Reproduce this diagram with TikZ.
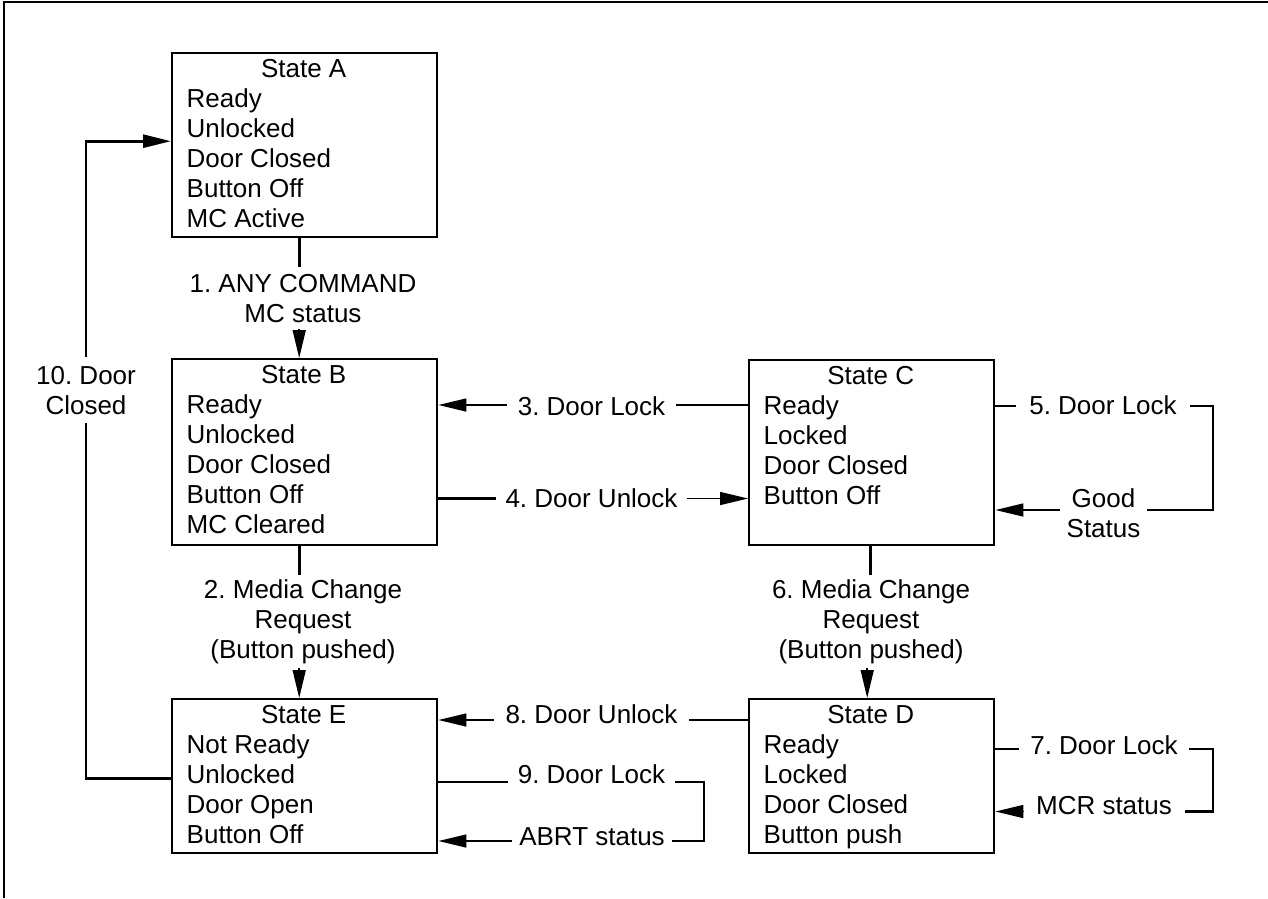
\documentclass[tikz,border=0pt]{standalone}
\usepackage{fontspec}
\setmainfont{Liberation Sans}
\usetikzlibrary{arrows.meta}
\newcommand\diagfont{\fontsize{26}{30}\selectfont}
\newcommand\titlebox[2]{\makebox[#1][c]{#2}}
\frenchspacing

\begin{document}
\begin{tikzpicture}[x=1pt,y=-1pt,
  statebox/.style={draw, line width=2.4pt, inner sep=0pt, anchor=north west},
  statetext/.style={anchor=base west, align=left, inner sep=0pt, font=\diagfont},
  lbl/.style={anchor=base, align=center, font=\diagfont, inner ysep=4pt},
  heavy/.style={line width=2.8pt},
  thinline/.style={line width=1.5pt},
  tip/.style={-{Triangle[length=28pt,width=13pt]}},
]
\useasboundingbox (0,0) rectangle (1268,898);

% page frame (top and left edges)
\draw[line width=2.4pt] (4,898) -- (4,2) -- (1268,2);

% state boxes
\node[statebox, minimum width=265pt, minimum height=184pt] (A) at (171,52) {};
\node[statebox, minimum width=265pt, minimum height=186pt] (B) at (171,358) {};
\node[statebox, minimum width=245pt, minimum height=185pt] (C) at (748,359) {};
\node[statebox, minimum width=245pt, minimum height=154pt] (D) at (748,698) {};
\node[statebox, minimum width=265pt, minimum height=154pt] (E) at (171,698) {};

% state contents (anchored on the baseline of the last line)
\node[statetext] (At) at ([xshift=15.5pt,yshift=-175.5pt]A.north west)
  {\titlebox{234pt}{State A}\\Ready\\Unlocked\\Door Closed\\Button Off\\MC Active};
\node[statetext] (Bt) at ([xshift=15.5pt,yshift=-175.5pt]B.north west)
  {\titlebox{234pt}{State B}\\Ready\\Unlocked\\Door Closed\\Button Off\\MC Cleared};
\node[statetext] (Ct) at ([xshift=15.5pt,yshift=-145.5pt]C.north west)
  {\titlebox{214pt}{State C}\\Ready\\Locked\\Door Closed\\Button Off};
\node[statetext] (Dt) at ([xshift=15.5pt,yshift=-145.5pt]D.north west)
  {\titlebox{214pt}{State D}\\Ready\\Locked\\Door Closed\\Button push};
\node[statetext] (Et) at ([xshift=15.5pt,yshift=-145.5pt]E.north west)
  {\titlebox{234pt}{State E}\\Not Ready\\Unlocked\\Door Open\\Button Off};

% transition labels (anchored on the baseline of the last line)
\node[lbl, inner ysep=6.5pt] (l1) at (303,322) {1. ANY COMMAND\\MC status};
\node[lbl] (l2) at (303,658) {2. Media Change\\Request\\(Button pushed)};
\node[lbl, inner xsep=11pt] (l3) at (591.5,415) {3. Door Lock};
\node[lbl, inner xsep=9.5pt] (l4) at (591.5,507) {4. Door Unlock};
\node[lbl, inner xsep=13pt] (l5) at (1103,414) {5. Door Lock};
\node[lbl, inner xsep=6.5pt] (l5b) at (1103.5,537) {Good\\Status};
\node[lbl] (l6) at (871,658) {6. Media Change\\Request\\(Button pushed)};
\node[lbl, inner xsep=11pt] (l7) at (1104,754) {7. Door Lock};
\node[lbl, inner xsep=13pt] (l7b) at (1104,814) {MCR status};
\node[lbl, inner xsep=11.5pt] (l8) at (591.5,723) {8. Door Unlock};
\node[lbl, inner xsep=10pt] (l9) at (591.5,783) {9. Door Lock};
\node[lbl, inner xsep=7.5pt] (l9b) at (592,845) {ABRT status};
\node[lbl, inner ysep=8.5pt] (l10) at (86,414) {10. Door\\Closed};

% line heights and loop corners
\coordinate (y3) at (0,405);
\coordinate (y4) at (0,498.5);
\coordinate (y5) at (0,406);
\coordinate (c5) at (1213,510);
\coordinate (y7) at (0,749);
\coordinate (c7) at (1213,811.5);
\coordinate (y8) at (0,720);
\coordinate (y9) at (0,782);
\coordinate (c9) at (704,841);

% 1: A -> B
\draw[heavy] ([xshift=-5.5pt]A.south) -- ([xshift=-5.5pt]A.south |- l1.north);
\draw[thinline,tip] ([xshift=-5.5pt]A.south |- l1.south) -- ([xshift=-5.5pt]B.north);

% 2: B -> E
\draw[heavy] ([xshift=-5.5pt]B.south) -- ([xshift=-5.5pt]B.south |- l2.north);
\draw[thinline,tip] ([xshift=-5.5pt]B.south |- l2.south) -- ([xshift=-5.5pt]E.north);

% 3: C -> B
\draw[heavy] (C.west |- y3) -- (l3.east |- y3);
\draw[thinline,tip] (l3.west |- y3) -- (B.east |- y3);

% 4: B -> C
\draw[heavy] (B.east |- y4) -- (l4.west |- y4);
\draw[thinline,tip] (l4.east |- y4) -- (C.west |- y4);

% 5: C -> C
\draw[heavy] (C.east |- y5) -- (l5.west |- y5);
\draw[heavy] (l5.east |- y5) -| (c5) -- (l5b.east |- c5);
\draw[thinline,tip] (l5b.west |- c5) -- (C.east |- c5);

% 6: C -> D
\draw[heavy] ([xshift=-1.5pt]C.south) -- ([xshift=-1.5pt]C.south |- l6.north);
\draw[thinline,tip] ([xshift=-4.5pt]C.south |- l6.south) -- ([xshift=-4.5pt]D.north);

% 7: D -> D
\draw[heavy] (D.east |- y7) -- (l7.west |- y7);
\draw[heavy] (l7.east |- y7) -| (c7) -- (l7b.east |- c7);
\draw[thinline,tip] (l7b.west |- c7) -- (D.east |- c7);

% 8: D -> E
\draw[heavy] (D.west |- y8) -- (l8.east |- y8);
\draw[thinline,tip] (l8.west |- y8) -- (E.east |- y8);

% 9: E -> E
\draw[heavy] (E.east |- y9) -- (l9.west |- y9);
\draw[heavy] (l9.east |- y9) -| (c9) -- (l9b.east |- c9);
\draw[thinline,tip] (l9b.west |- c9) -- (E.east |- c9);

% 10: E -> A
\draw[heavy] ([yshift=-2pt]E.west) -| (l10.south);
\draw[heavy,tip] (l10.north) |- ([yshift=4pt]A.west);
\end{tikzpicture}
\end{document}
